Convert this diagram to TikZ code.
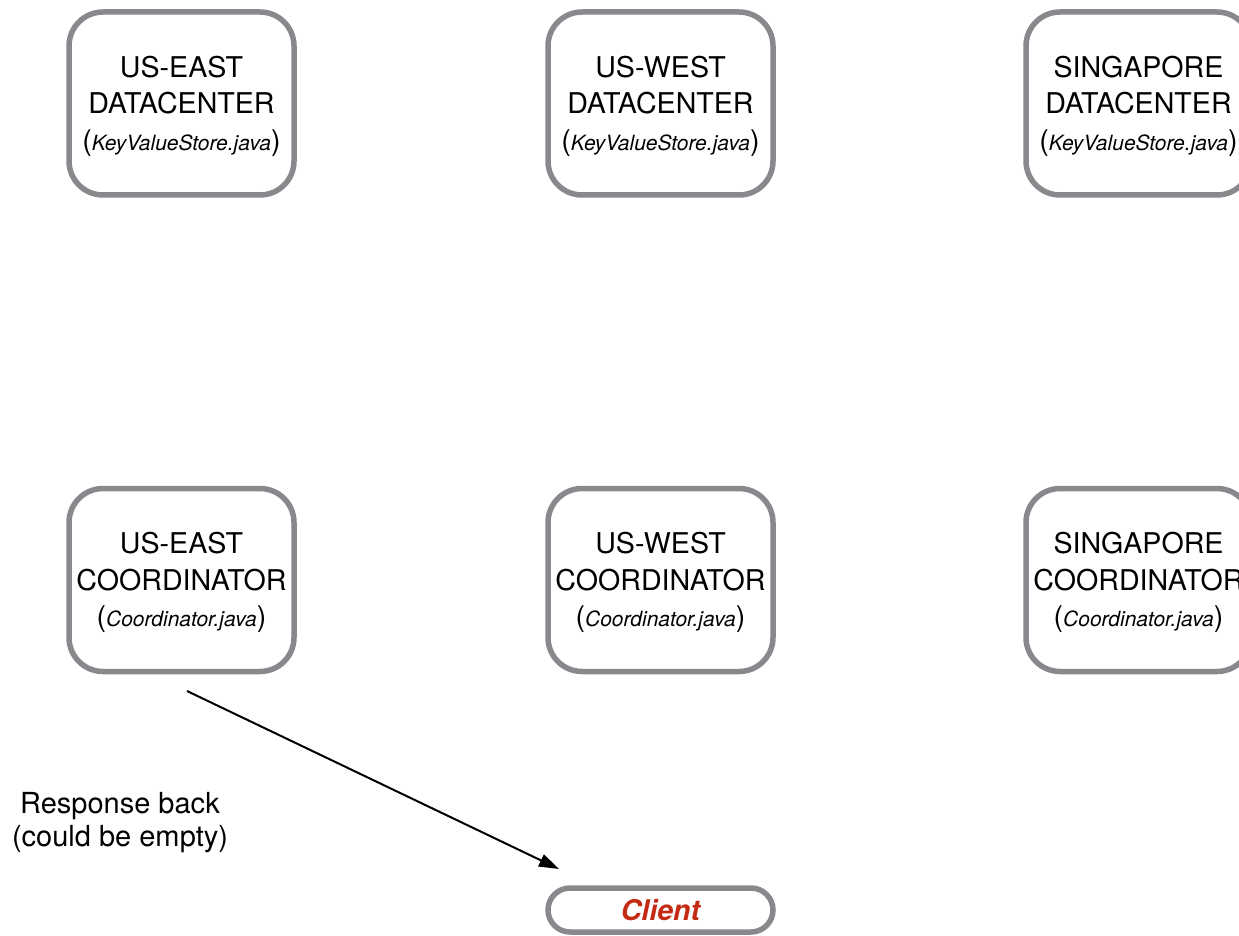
\documentclass[tikz,border=0pt]{standalone}
\usepackage{fontspec}
\setmainfont{TeX Gyre Heros}
\usetikzlibrary{arrows.meta}
\definecolor{boxgray}{HTML}{88898C}
\definecolor{clientred}{HTML}{C52B14}
\tikzset{
  x=1pt, y=-1pt,
  server/.style={draw=boxgray, line width=5.5pt, rounded corners=34pt, fill=white,
    minimum width=225pt, minimum height=183pt, align=center, inner sep=0pt,
    font=\fontsize{28.6}{36.5}\selectfont},
  clientbox/.style={draw=boxgray, line width=5.5pt, rounded corners=22pt,
    minimum width=225pt, minimum height=44pt, inner sep=0pt,
    font=\fontsize{28.5}{32}\selectfont\bfseries\itshape, text=clientred},
  flow/.style={line width=2pt, -{Triangle[length=20pt,width=13pt]}},
  note/.style={align=center, font=\fontsize{29}{33}\selectfont}
}
\newcommand{\src}[1]{({\fontsize{21}{24}\selectfont\itshape #1})}
\newcommand{\boxtext}[3]{\rule{0pt}{27pt}#1\\#2\\\src{#3}}
\begin{document}
\begin{tikzpicture}
\useasboundingbox (0,0) rectangle (1239,936);
% datacenters
\node[server] (dcE) at (181.5,103.5) {\boxtext{US-EAST}{DATACENTER}{KeyValueStore.java}};
\node[server] (dcW) at (660.5,103.5) {\boxtext{US-WEST}{DATACENTER}{KeyValueStore.java}};
\node[server] (dcS) at (1138.5,103.5) {\boxtext{SINGAPORE}{DATACENTER}{KeyValueStore.java}};
% coordinators
\node[server] (coE) at (181.5,580) {\boxtext{US-EAST}{COORDINATOR}{Coordinator.java}};
\node[server] (coW) at (660.5,580) {\boxtext{US-WEST}{COORDINATOR}{Coordinator.java}};
\node[server] (coS) at (1138.5,580) {\boxtext{SINGAPORE}{COORDINATOR}{Coordinator.java}};
% client
\node[clientbox] (client) at (660.5,910) {Client};
% response
\coordinate (rs) at (187,691);
\coordinate (re) at (559,869);
\draw[flow] (rs) -- (re);
\node[note] (resp) at (120,823) {Response back\\(could be empty)};
\end{tikzpicture}
\end{document}
